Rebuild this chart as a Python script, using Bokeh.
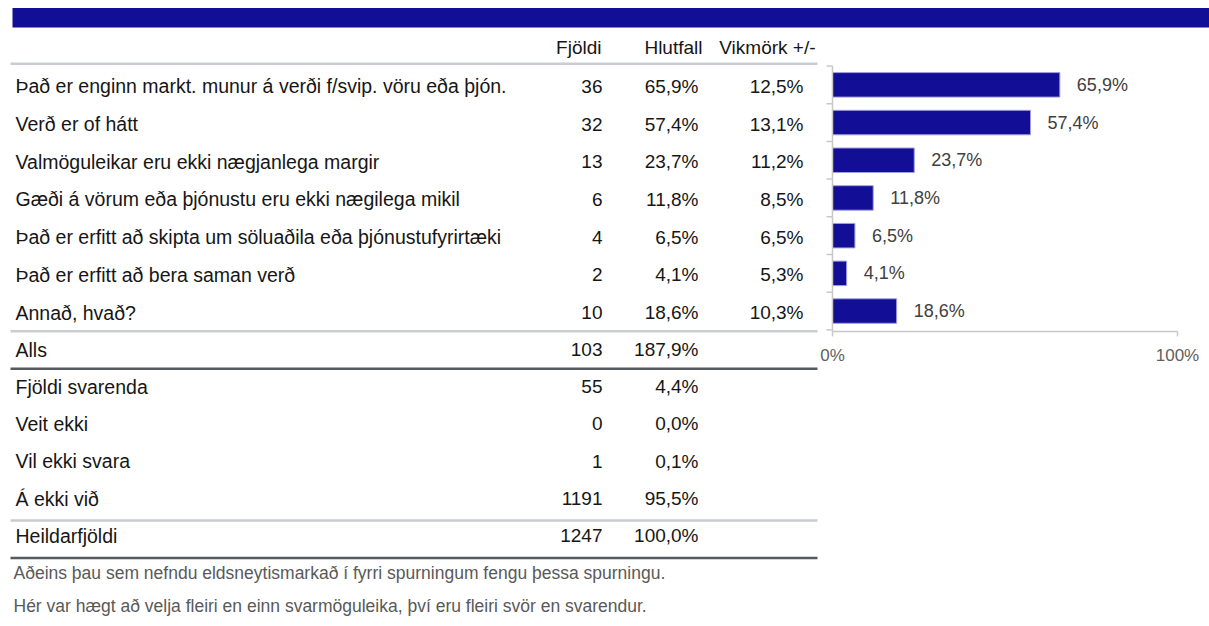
from bokeh.plotting import figure
from bokeh.models import Range1d, ColumnDataSource
from bokeh.core.properties import value
from bokeh.embed import file_html
from bokeh.resources import INLINE

# ---------------- data ----------------
headers = ["Fjöldi", "Hlutfall", "Vikmörk +/-"]
categories = [
    "Það er enginn markt. munur á verði f/svip. vöru eða þjón.",
    "Verð er of hátt",
    "Valmöguleikar eru ekki nægjanlega margir",
    "Gæði á vörum eða þjónustu eru ekki nægilega mikil",
    "Það er erfitt að skipta um söluaðila eða þjónustufyrirtæki",
    "Það er erfitt að bera saman verð",
    "Annað, hvað?",
]
counts = [36, 32, 13, 6, 4, 2, 10]
shares = [65.9, 57.4, 23.7, 11.8, 6.5, 4.1, 18.6]
margins = [12.5, 13.1, 11.2, 8.5, 6.5, 5.3, 10.3]
total_label = "Alls"
total_count = 103
total_share = 187.9
extra_labels = ["Fjöldi svarenda", "Veit ekki", "Vil ekki svara", "Á ekki við", "Heildarfjöldi"]
extra_counts = [55, 0, 1, 1191, 1247]
extra_shares = [4.4, 0.0, 0.1, 95.5, 100.0]
axis_ticks = [0, 100]
footnotes = [
    "Aðeins þau sem nefndu eldsneytismarkað í fyrri spurningum fengu þessa spurningu.",
    "Hér var hægt að velja fleiri en einn svarmöguleika, því eru fleiri svör en svarendur.",
]


def pct(v):
    return f"{v:.1f}".replace(".", ",") + "%"


# ---------------- layout (coordinates = page pixels) ----------------
W, H = 1209, 626
FONT = value("Liberation Sans")
TXT = "#161616"
BLUE = "#130e96"
LIGHT = "#c9cdd1"
DARK = "#555a5e"
AXIS = "#c8c8c8"

X0, X100 = 832.0, 1177.0          # page x of 0% and 100%
ppu = (X100 - X0) / 100.0
top = 65.5
step = 37.7
bar_y = [top + step * (i + 0.5) for i in range(len(categories))]
txt_y = [y + 1.5 for y in bar_y]
extra_y = [386, 423, 460.5, 498, 535]
total_y = 349

p = figure(width=W, height=H, output_backend="svg", toolbar_location=None,
           x_range=Range1d(0, W), y_range=Range1d(H, 0),
           x_axis_type=None, y_axis_type=None, min_border=0,
           outline_line_color=None)
p.extra_x_ranges = {"pct": Range1d((0 - X0) / ppu, (W - X0) / ppu)}

# blue band
p.quad(left=[12], right=[W], top=[7.5], bottom=[27], fill_color=BLUE, line_color=None)

# headers
p.text(x=[601, 702, 815], y=[47, 47, 47], text=headers, text_font=FONT,
       text_font_size="19px", text_align="right", text_baseline="middle", text_color=TXT)

# separator lines
p.segment(x0=[10, 10, 10], y0=[63.3, 330.7, 520], x1=[817, 817, 817], y1=[63.3, 330.7, 520],
          line_color=LIGHT, line_width=2.5)
p.segment(x0=[10, 10], y0=[368.3, 557.5], x1=[817, 817], y1=[368.3, 557.5],
          line_color=DARK, line_width=2.5)

# table rows
lab_src = ColumnDataSource(dict(
    y=txt_y + [total_y] + extra_y,
    label=categories + [total_label] + extra_labels,
    cnt=[str(c) for c in counts] + [str(total_count)] + [str(c) for c in extra_counts],
    shr=[pct(s) for s in shares] + [pct(total_share)] + [pct(s) for s in extra_shares],
))
p.text(x=15, y="y", text="label", source=lab_src, text_font=FONT, text_font_size="19.5px",
       text_align="left", text_baseline="middle", text_color=TXT)
p.text(x=602, y="y", text="cnt", source=lab_src, text_font=FONT, text_font_size="19px",
       text_align="right", text_baseline="middle", text_color=TXT)
p.text(x=698, y="y", text="shr", source=lab_src, text_font=FONT, text_font_size="19px",
       text_align="right", text_baseline="middle", text_color=TXT)
p.text(x=803, y=txt_y, text=[pct(m) for m in margins], text_font=FONT, text_font_size="19px",
       text_align="right", text_baseline="middle", text_color=TXT)

# bars
bar_src = ColumnDataSource(dict(y=bar_y, v=shares, lbl=[pct(s) for s in shares]))
p.hbar(y="y", left=0, right="v", height=24.5, source=bar_src, x_range_name="pct",
       fill_color=BLUE, line_color="#a0a0dc", line_width=1)
p.text(x="v", y="y", text="lbl", source=bar_src, x_range_name="pct", x_offset=17,
       text_font=FONT, text_font_size="18px", text_align="left", text_baseline="middle",
       text_color="#404040")

# axes (drawn through the pct scale)
n = len(categories)
y_bottom = top + step * n + 1.5
p.segment(x0=[0], y0=[top], x1=[0], y1=[y_bottom], x_range_name="pct",
          line_color=AXIS, line_width=1.5)
p.segment(x0=[0], y0=[y_bottom], x1=[100], y1=[y_bottom], x_range_name="pct",
          line_color=AXIS, line_width=1.5)
bounds = [top + step * k for k in range(n + 1)]
p.segment(x0=[-6 / ppu] * len(bounds), y0=bounds, x1=[0] * len(bounds), y1=bounds,
          x_range_name="pct", line_color=AXIS, line_width=1.5)
p.segment(x0=axis_ticks, y0=[y_bottom] * 2, x1=axis_ticks, y1=[y_bottom + 5] * 2,
          x_range_name="pct", line_color=AXIS, line_width=1.5)
p.text(x=axis_ticks, y=[355, 355], text=[f"{t}%" for t in axis_ticks], x_range_name="pct",
       text_font=FONT, text_font_size="17px", text_align="center", text_baseline="middle",
       text_color="#606060")

# footnotes
p.text(x=[13, 13], y=[572, 605], text=footnotes, text_font=FONT, text_font_size="17.5px",
       text_align="left", text_baseline="middle", text_color="#595959")

open("out.html", "w").write(file_html(p, INLINE))
